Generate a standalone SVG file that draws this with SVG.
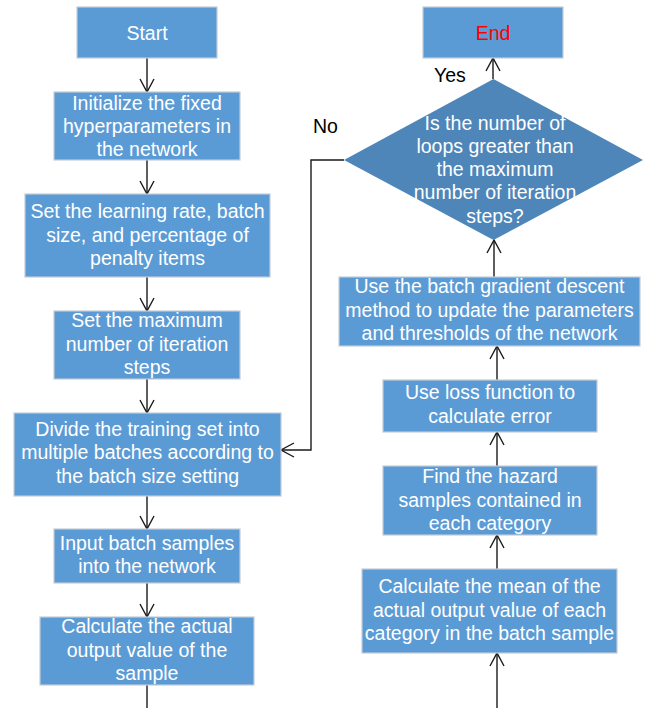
<svg xmlns="http://www.w3.org/2000/svg" width="648" height="708" viewBox="0 0 648 708">
<defs>
<marker id="arr" markerUnits="userSpaceOnUse" markerWidth="20" markerHeight="20" refX="0" refY="0" viewBox="-15 -10 18 20" orient="auto" overflow="visible">
<path d="M-13,-7 L0,0 L-13,7" fill="none" stroke="#1a1a1a" stroke-width="1.4"/>
</marker>
<style>
.box{fill:#5B9BD5;stroke:#C3CCD8;stroke-width:1.2}
.dia{fill:#4E86B9;stroke:none}
.t{font-family:"Liberation Sans",Arial,sans-serif;font-size:19.5px;fill:#ffffff;text-anchor:middle}
.lbl{font-family:"Liberation Sans",Arial,sans-serif;font-size:19.5px;fill:#000000}
.c{fill:none;stroke:#1a1a1a;stroke-width:1.4}
</style>
</defs>
<rect width="648" height="708" fill="#ffffff"/>
<g id="connectors">
<line class="c" x1="147" y1="58" x2="147" y2="92" marker-end="url(#arr)"/>
<line class="c" x1="147" y1="160" x2="147" y2="194" marker-end="url(#arr)"/>
<line class="c" x1="147" y1="277" x2="147" y2="311" marker-end="url(#arr)"/>
<line class="c" x1="147" y1="379" x2="147" y2="413" marker-end="url(#arr)"/>
<line class="c" x1="147" y1="496" x2="147" y2="529" marker-end="url(#arr)"/>
<line class="c" x1="147" y1="583" x2="147" y2="617" marker-end="url(#arr)"/>
<line class="c" x1="147" y1="685" x2="147" y2="708"/>
<line class="c" x1="497" y1="708" x2="497" y2="653" marker-end="url(#arr)"/>
<line class="c" x1="497" y1="569" x2="497" y2="535" marker-end="url(#arr)"/>
<line class="c" x1="497" y1="466" x2="497" y2="432" marker-end="url(#arr)"/>
<line class="c" x1="497" y1="380" x2="497" y2="346" marker-end="url(#arr)"/>
<line class="c" x1="494" y1="277" x2="494" y2="240" marker-end="url(#arr)"/>
<line class="c" x1="493" y1="79" x2="493" y2="58" marker-end="url(#arr)"/>
<polyline class="c" points="344,160 311,160 311,450 281,450" marker-end="url(#arr)"/>
</g>
<g id="start">
<rect class="box" x="77" y="7" width="140" height="51"/>
<text class="t" x="147" y="39.5">Start</text>
</g>
<g id="init">
<rect class="box" x="54" y="92" width="186" height="68"/>
<text class="t" x="147" y="109.5">Initialize the fixed</text>
<text class="t" x="147" y="132.7">hyperparameters in</text>
<text class="t" x="147" y="155.8">the network</text>
</g>
<g id="learning">
<rect class="box" x="25" y="194" width="245" height="83"/>
<text class="t" x="147.5" y="218.3">Set the learning rate, batch</text>
<text class="t" x="147.5" y="241.7">size, and percentage of</text>
<text class="t" x="147.5" y="265">penalty items</text>
</g>
<g id="maxiter">
<rect class="box" x="54" y="311" width="186" height="68"/>
<text class="t" x="147" y="327.3">Set the maximum</text>
<text class="t" x="147" y="350.7">number of iteration</text>
<text class="t" x="147" y="374">steps</text>
</g>
<g id="divide">
<rect class="box" x="14" y="413" width="267" height="83"/>
<text class="t" x="147.5" y="436">Divide the training set into</text>
<text class="t" x="147.5" y="459.3">multiple batches according to</text>
<text class="t" x="147.5" y="482.7">the batch size setting</text>
</g>
<g id="input">
<rect class="box" x="54" y="529" width="186" height="54"/>
<text class="t" x="147" y="550">Input batch samples</text>
<text class="t" x="147" y="573.3">into the network</text>
</g>
<g id="calcactual">
<rect class="box" x="40" y="617" width="214" height="68"/>
<text class="t" x="147" y="633.3">Calculate the actual</text>
<text class="t" x="147" y="656.7">output value of the</text>
<text class="t" x="147" y="680">sample</text>
</g>
<g id="calcmean">
<rect class="box" x="362" y="569" width="255" height="84"/>
<text class="t" x="489.5" y="593.3">Calculate the mean of the</text>
<text class="t" x="489.5" y="616.7">actual output value of each</text>
<text class="t" x="489.5" y="640">category in the batch sample</text>
</g>
<g id="hazard">
<rect class="box" x="383" y="466" width="214" height="69"/>
<text class="t" x="490" y="483.3">Find the hazard</text>
<text class="t" x="490" y="506.7">samples contained in</text>
<text class="t" x="490" y="530">each category</text>
</g>
<g id="loss">
<rect class="box" x="383" y="380" width="214" height="52"/>
<text class="t" x="490" y="399.3">Use loss function to</text>
<text class="t" x="490" y="422.7">calculate error</text>
</g>
<g id="gradient">
<rect class="box" x="339" y="277" width="301" height="69"/>
<text class="t" x="489.5" y="293.3">Use the batch gradient descent</text>
<text class="t" x="489.5" y="316.7">method to update the parameters</text>
<text class="t" x="489.5" y="340">and thresholds of the network</text>
</g>
<g id="decision">
<polygon class="dia" points="493.5,79 643,160 493.5,240 344,160"/>
<text class="t" x="495" y="129.5">Is the number of</text>
<text class="t" x="495" y="152.7">loops greater than</text>
<text class="t" x="495" y="176">the maximum</text>
<text class="t" x="495" y="199.3">number of iteration</text>
<text class="t" x="495" y="222.5">steps?</text>
<text class="lbl" x="434" y="82">Yes</text>
<text class="lbl" x="313" y="132.5">No</text>
</g>
<g id="end">
<rect class="box" x="423" y="7" width="140" height="51"/>
<text class="t" x="493" y="39.5" style="fill:#FF0000">End</text>
</g>
</svg>
